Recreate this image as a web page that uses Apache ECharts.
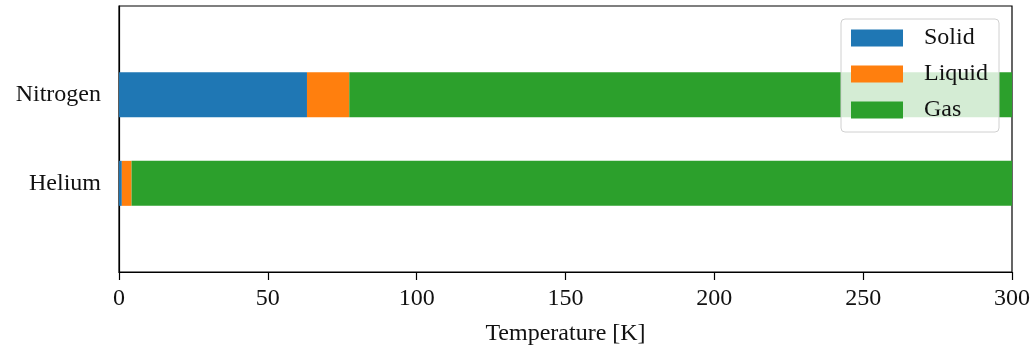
<!DOCTYPE html>
<html>
<head>
<meta charset="utf-8">
<script src="https://cdn.jsdelivr.net/npm/echarts@6/dist/echarts.min.js"></script>
<style>
  html, body { margin: 0; padding: 0; background: #fff; }
  #chart { width: 1036px; height: 351px; }
</style>
</head>
<body>
<div id="chart"></div>
<script>
// padded with empty categories so the two bars sit at y = 0 and 1 of a -1..2 range
var categories = ['', 'Helium', 'Nitrogen', '']
var solidEnd = [null, 0.95, 63.15, null]   // melting point [K]
var liquidEnd = [null, 4.22, 77.36, null]  // boiling point [K]
var tMax = 300
var xTicks = [0, 50, 100, 150, 200, 250, 300]

var solid = solidEnd.map(function(v) { return v })
var liquid = liquidEnd.map(function(v, i) { return v == null ? null : v - solidEnd[i] })
var gas = liquidEnd.map(function(v) { return v == null ? null : tMax - v })

var font = 'Liberation Serif'
var chart = echarts.init(document.getElementById('chart'), null, { renderer: 'canvas' })

var option = {
  animation: false,
  textStyle: { fontFamily: font },
  color: ['#1f77b4', '#ff7f0e', '#2ca02c'],
  grid: {
    left: 119,
    right: 24,
    top: 6,
    bottom: 78,
    show: true,
    borderColor: '#000',
    borderWidth: 1.2,
    backgroundColor: 'transparent'
  },
  legend: {
    orient: 'vertical',
    right: 37,
    top: 19,
    icon: 'rect',
    itemWidth: 52,
    itemHeight: 17,
    itemGap: 12,
    padding: [7, 11, 10, 10],
    backgroundColor: 'rgba(255,255,255,0.8)',
    borderColor: '#d0d0d0',
    borderWidth: 1,
    borderRadius: 4,
    textStyle: { fontFamily: font, fontSize: 24, color: '#111', padding: [0, 0, 0, 16] },
    itemStyle: { borderWidth: 0 },
    data: ['Solid', 'Liquid', 'Gas']
  },
  xAxis: {
    type: 'value',
    min: 0,
    max: tMax,
    interval: 50,
    name: 'Temperature [K]',
    nameLocation: 'middle',
    nameGap: 50,
    nameTextStyle: { fontFamily: font, fontSize: 24, color: '#111' },
    axisLine: { show: true, lineStyle: { color: '#000', width: 1.2 } },
    axisTick: { show: true, length: 8, lineStyle: { color: '#000', width: 1.2 } },
    axisLabel: {
      fontFamily: font, fontSize: 24, color: '#111', margin: 15,
      formatter: function(v) { return xTicks.indexOf(v) >= 0 ? String(v) : '' }
    },
    splitLine: { show: false }
  },
  yAxis: {
    type: 'category',
    data: categories,
    boundaryGap: false,
    axisLine: { show: true, lineStyle: { color: '#000', width: 1.2 } },
    axisTick: { show: false },
    axisLabel: { fontFamily: font, fontSize: 24, color: '#111', margin: 18 },
    splitLine: { show: false }
  },
  series: [
    { name: 'Solid', type: 'bar', stack: 'phase', barWidth: 45, data: solid },
    { name: 'Liquid', type: 'bar', stack: 'phase', barWidth: 45, data: liquid },
    { name: 'Gas', type: 'bar', stack: 'phase', barWidth: 45, data: gas }
  ]
}
chart.setOption(option)
window.addEventListener('resize', function() {
  chart.resize()
})
</script>
</body>
</html>
